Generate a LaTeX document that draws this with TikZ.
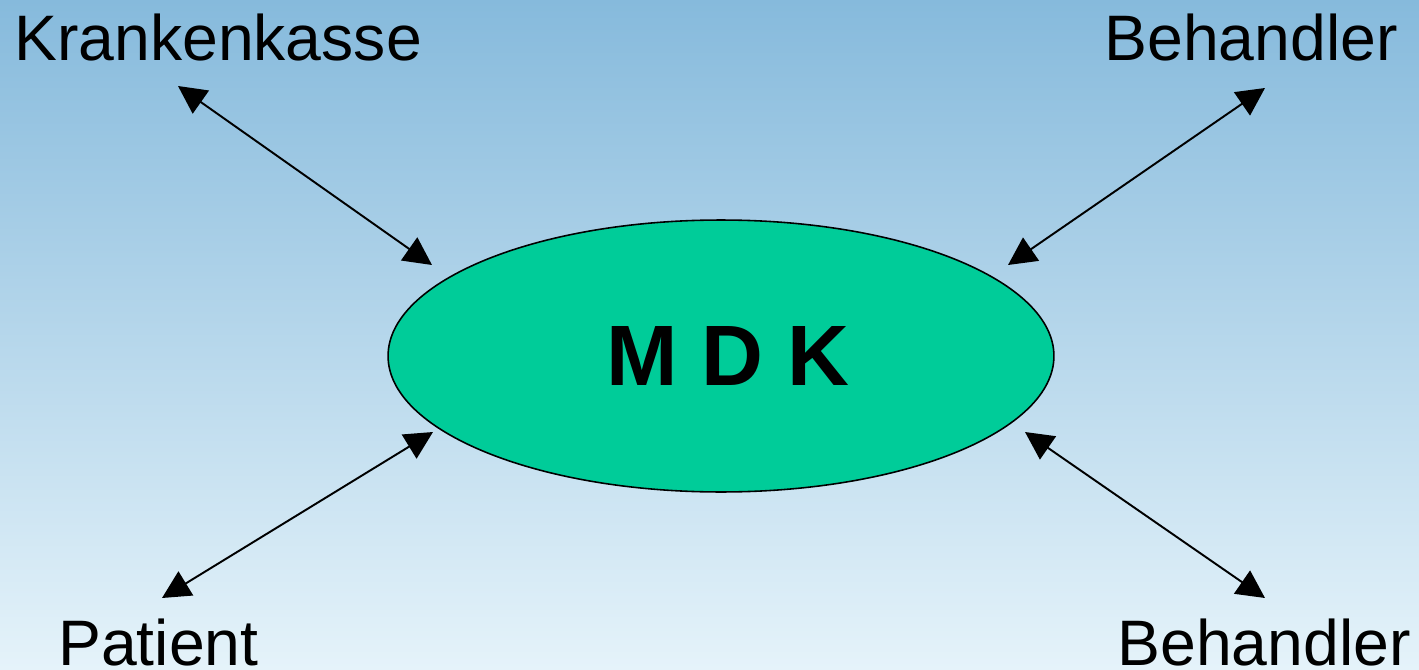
\documentclass[tikz,border=0pt]{standalone}
\usepackage{fontspec}
\setmainfont{Liberation Sans}
\usetikzlibrary{arrows.meta,shapes.geometric}
\definecolor{skytop}{RGB}{134,186,220}
\definecolor{skybottom}{RGB}{229,243,250}
\definecolor{mdkgreen}{RGB}{0,204,153}
\tikzset{
  party/.style={inner sep=0pt,font=\fontsize{36.6}{40}\selectfont},
  link/.style={{Triangle[length=0.56cm,width=0.56cm]}-{Triangle[length=0.56cm,width=0.56cm]},line width=1.1pt},
}
\begin{document}
\begin{tikzpicture}[x=0.02cm,y=-0.02cm]
\shade[top color=skytop,bottom color=skybottom] (0,0) rectangle (1419,669);
\useasboundingbox (0,0) rectangle (1419,669);
\node[ellipse,draw,fill=mdkgreen,line width=0.9pt,minimum width=13.32cm,minimum height=5.44cm,inner sep=0pt,font=\fontsize{48.8}{56}\selectfont\bfseries] (mdk) at (721,356) {\kern0.28cm M D K};
\node[party,anchor=base west] (kasse) at (14,61) {Krankenkasse};
\node[party,anchor=base west] (arzt1) at (1104,61) {Behandler};
\node[party,anchor=base west] (patient) at (58,665) {Patient};
\node[party,anchor=base west] (arzt2) at (1117,665) {Behandler};
% arrow ends
\coordinate (kasse-end) at (178,86);
\coordinate (mdk-nw) at (432,265);
\coordinate (arzt1-end) at (1265,88);
\coordinate (mdk-ne) at (1008,265);
\coordinate (patient-end) at (162,598);
\coordinate (mdk-sw) at (433,432);
\coordinate (arzt2-end) at (1265,598);
\coordinate (mdk-se) at (1025,432);
\draw[link] (kasse-end)--(mdk-nw);
\draw[link] (arzt1-end)--(mdk-ne);
\draw[link] (patient-end)--(mdk-sw);
\draw[link] (arzt2-end)--(mdk-se);
\end{tikzpicture}
\end{document}
